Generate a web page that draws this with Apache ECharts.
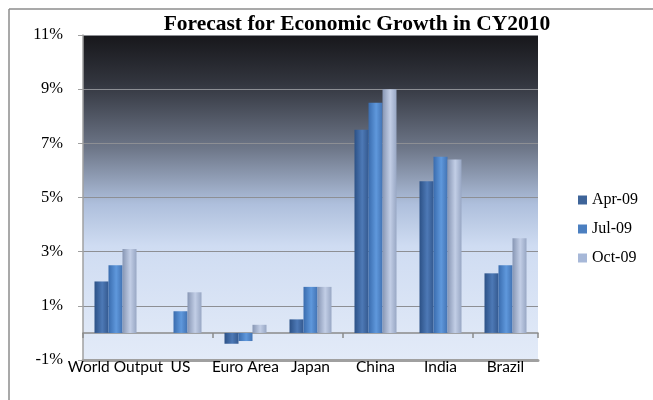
<!DOCTYPE html>
<html><head><meta charset="utf-8">
<script src="https://cdn.jsdelivr.net/npm/echarts@6/dist/echarts.min.js"></script>
<style>html,body{margin:0;padding:0;background:#fff}#c{width:653px;height:400px}</style>
</head><body><div id="c"></div>
<script>
const categories = ['World Output', 'US', 'Euro Area', 'Japan', 'China', 'India', 'Brazil'];
const apr09 = [1.9, 0.0, -0.4, 0.5, 7.5, 5.6, 2.2];
const jul09 = [2.5, 0.8, -0.3, 1.7, 8.5, 6.5, 2.5];
const oct09 = [3.1, 1.5, 0.3, 1.7, 9.0, 6.4, 3.5];
const seriesNames = ['Apr-09', 'Jul-09', 'Oct-09'];
const yMin = -1, yMax = 11, yStep = 2;

function grad(a, b, c) {
  return new echarts.graphic.LinearGradient(0, 0, 1, 0, [
    {offset: 0, color: a}, {offset: 0.55, color: b}, {offset: 1, color: c}
  ]);
}
const fills = [
  grad('#2c5186', '#4d79b6', '#34598f'),
  grad('#3a6cae', '#5f98dc', '#4273b4'),
  grad('#8796b4', '#c2cee6', '#98a7c4')
];
const legendColors = ['#3e6499', '#4b7fc0', '#a7b8d8'];

const chart = echarts.init(document.getElementById('c'), null, {renderer: 'canvas'});
chart.setOption({
  animation: false,
  title: {
    text: 'Forecast for Economic Growth in CY2010',
    left: 352, textAlign: 'center', top: 8,
    textStyle: {fontFamily: 'Liberation Serif', fontWeight: 'bold', fontSize: 21.5, color: '#000'}
  },
  legend: {
    orient: 'vertical', left: 573, top: 187, itemWidth: 9, itemHeight: 9, itemGap: 13,
    icon: 'rect',
    textStyle: {fontFamily: 'Liberation Serif', fontSize: 16, color: '#000'},
    data: seriesNames.map((n, i) => ({name: n, itemStyle: {color: legendColors[i]}}))
  },
  graphic: [
    {type: 'line', shape: {x1: 9, y1: 9, x2: 653, y2: 9}, style: {stroke: '#8c8c8c', lineWidth: 1.5}},
    {type: 'line', shape: {x1: 9, y1: 9, x2: 9, y2: 400}, style: {stroke: '#8c8c8c', lineWidth: 1.5}}
  ],
  grid: {
    left: 83, right: 115, top: 35, bottom: 40, show: true, borderWidth: 0,
    backgroundColor: new echarts.graphic.LinearGradient(0, 0, 0, 1, [
      {offset: 0, color: '#17171b'},
      {offset: 0.15, color: '#33363f'},
      {offset: 0.35, color: '#6e7789'},
      {offset: 0.52, color: '#aebfdc'},
      {offset: 0.65, color: '#cfdcf2'},
      {offset: 1, color: '#e3ebf8'}
    ])
  },
  xAxis: [{
    type: 'category', data: categories, position: 'bottom',
    axisLine: {onZero: false, lineStyle: {color: '#a0a0a0', width: 3}},
    axisTick: {show: false},
    axisLabel: {interval: 0, margin: -1, fontFamily: 'Lato', fontSize: 15.5, color: '#000'}
  }, {
    type: 'category', data: categories, position: 'top',
    axisLine: {onZero: true, lineStyle: {color: '#8a8a8a', width: 1.5}},
    axisTick: {show: true, inside: true, length: 5, lineStyle: {color: '#8a8a8a', width: 1.5}},
    axisLabel: {show: false}
  }],
  yAxis: {
    type: 'value', min: yMin, max: yMax, interval: yStep,
    axisLine: {show: true, lineStyle: {color: '#a0a0a0', width: 1.5}},
    axisTick: {show: true, length: 5, lineStyle: {color: '#a0a0a0'}},
    axisLabel: {formatter: v => v + '%', fontFamily: 'Liberation Serif', fontSize: 16.5, color: '#000', margin: 20},
    splitLine: {show: true, lineStyle: {color: '#8d8f94', width: 1.2}}
  },
  series: [apr09, jul09, oct09].map((d, i) => ({
    name: seriesNames[i], type: 'bar', data: d, barWidth: 14, barGap: '0%',
    itemStyle: {color: fills[i]}
  }))
});
</script></body></html>
